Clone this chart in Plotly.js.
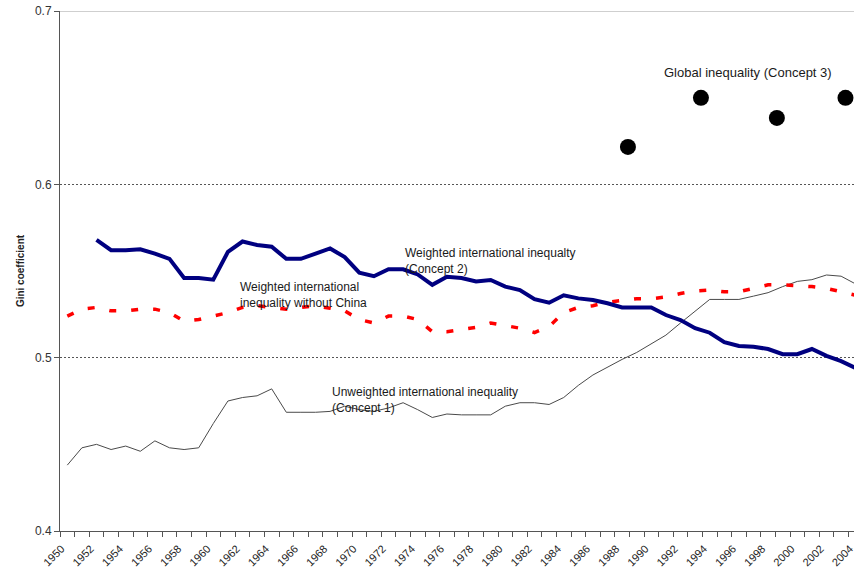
<!DOCTYPE html>
<html>
<head>
<meta charset="utf-8">
<script src="https://cdn.plot.ly/plotly-3.0.1.min.js"></script>
<style>
html,body{margin:0;padding:0;overflow:hidden;background:#fff;}
#chart{width:870px;height:573px;}
</style>
</head>
<body>
<div id="chart"></div>
<script>
// ---- data ----
const years = [1950,1951,1952,1953,1954,1955,1956,1957,1958,1959,1960,1961,1962,1963,1964,1965,1966,1967,1968,1969,
1970,1971,1972,1973,1974,1975,1976,1977,1978,1979,1980,1981,1982,1983,1984,1985,1986,1987,1988,1989,
1990,1991,1992,1993,1994,1995,1996,1997,1998,1999,2000,2001,2002,2003,2004];

// Unweighted international inequality (Concept 1)
const concept1 = [0.438,0.448,0.450,0.447,0.449,0.446,0.452,0.448,0.447,0.448,
0.462,0.475,0.477,0.478,0.482,0.4685,0.4685,0.4685,0.469,0.472,
0.470,0.469,0.471,0.474,0.470,0.4655,0.4675,0.467,0.467,0.467,
0.472,0.474,0.474,0.473,0.477,0.484,0.490,0.4945,0.499,0.503,
0.508,0.513,0.520,0.527,0.5336,0.5336,0.5336,0.5355,0.5375,0.541,
0.544,0.545,0.5477,0.547,0.5425];

// Weighted international inequality (Concept 2)
const concept2 = [null,null,0.568,0.562,0.562,0.5625,0.560,0.557,0.546,0.546,
0.545,0.561,0.567,0.565,0.564,0.557,0.557,0.560,0.563,0.558,
0.549,0.547,0.551,0.551,0.548,0.542,0.5467,0.546,0.544,0.5448,
0.541,0.539,0.5337,0.5317,0.536,0.5342,0.5333,0.5314,0.529,0.529,
0.529,0.5246,0.5217,0.517,0.5144,0.509,0.5067,0.5063,0.505,0.502,
0.502,0.505,0.501,0.498,0.494];

// Weighted international inequality without China
const concept2NoChina = [0.524,0.528,0.529,0.527,0.527,0.528,0.528,0.526,0.521,0.522,
0.524,0.526,0.529,0.530,0.529,0.528,0.529,0.530,0.5285,0.527,
0.522,0.520,0.524,0.524,0.522,0.515,0.515,0.5165,0.5175,0.520,
0.5185,0.517,0.5145,0.518,0.526,0.529,0.530,0.532,0.533,0.534,
0.534,0.535,0.537,0.5385,0.539,0.538,0.538,0.540,0.542,0.542,
0.5415,0.541,0.540,0.538,0.536];

// Global inequality (Concept 3)
const globalX = [1988.4, 1993.4, 1998.6, 2003.3];
const globalY = [0.6216, 0.6499, 0.6383, 0.6499];

// x tick labels (every second year)
const xLabelYears = [1950,1952,1954,1956,1958,1960,1962,1964,1966,1968,1970,1972,1974,1976,
1978,1980,1982,1984,1986,1988,1990,1992,1994,1996,1998,2000,2002,2004];

const yTicks = [0.4, 0.5, 0.6, 0.7];
const yTickText = ['0.4', '0.5', '0.6', '0.7'];

// ---- chart ----
const FONT = 'Arial, "Liberation Sans", sans-serif';
const LABEL_SHIFT = 0.4; // rotated labels sit slightly left of their category
const traces = [
  {x: years, y: concept1, type: 'scatter', mode: 'lines', name: 'Unweighted international inequality (Concept 1)',
   line: {color: '#4a4a4a', width: 1}},
  {x: years, y: concept2NoChina, type: 'scatter', mode: 'lines', name: 'Weighted international inequality without China',
   line: {color: '#ff0000', width: 3.5, dash: '7px,15px'}},
  {x: years, y: concept2, type: 'scatter', mode: 'lines', name: 'Weighted international inequalty (Concept 2)',
   line: {color: '#000080', width: 4}},
  {x: globalX, y: globalY, type: 'scatter', mode: 'markers', name: 'Global inequality (Concept 3)',
   marker: {color: '#000000', size: 16, symbol: 'circle'}, cliponaxis: false}
];

function ann(text, x, y, size) {
  return {text: text, x: x, y: y, xref: 'x', yref: 'y', xanchor: 'left', yanchor: 'middle',
    align: 'left', showarrow: false, font: {family: FONT, size: size || 12, color: '#1a1a1a'}};
}

const layout = {
  width: 870, height: 573,
  margin: {l: 60, r: 7, t: 11, b: 42},
  paper_bgcolor: '#ffffff', plot_bgcolor: '#ffffff',
  showlegend: false,
  font: {family: FONT, size: 12, color: '#222'},
  xaxis: {
    range: [1949.5, 2004.5],
    tickmode: 'array',
    tickvals: xLabelYears.map(v => v - LABEL_SHIFT),
    ticktext: xLabelYears.map(String),
    ticks: '', tickangle: -45,
    tickfont: {family: FONT, size: 11, color: '#222'},
    ticklabelstandoff: 6,
    showline: true, linecolor: '#555', linewidth: 1,
    showgrid: false, zeroline: false,
    minor: {tickmode: 'linear', tick0: 1949.5, dtick: 1, ticks: 'outside', ticklen: 5, tickcolor: '#555', showgrid: false}
  },
  yaxis: {
    range: [0.4, 0.7],
    tickmode: 'array', tickvals: yTicks, ticktext: yTickText,
    ticks: 'outside', ticklen: 5, tickcolor: '#555',
    tickfont: {family: FONT, size: 12, color: '#333'},
    showline: true, linecolor: '#555', linewidth: 1,
    showgrid: true, gridcolor: '#555', gridwidth: 1, griddash: '2px,2px',
    zeroline: false,
    title: {text: 'Gini coefficient', font: {family: FONT, size: 10, color: '#222', weight: 'bold'}, standoff: 8}
  },
  shapes: [
    {type: 'line', xref: 'paper', yref: 'y', x0: 0, x1: 1, y0: 0.7, y1: 0.7,
     line: {color: '#a0a0a0', width: 1}}
  ],
  annotations: [
    ann('Global inequality (Concept 3)', 1990.7, 0.6648, 13),
    ann('Weighted international inequalty<br>(Concept 2)', 1973.0, 0.5557),
    ann('Weighted international<br>inequality without China', 1961.7, 0.5363),
    ann('Unweighted international inequality<br>(Concept 1)', 1968.0, 0.4755)
  ]
};

Plotly.newPlot('chart', traces, layout, {displayModeBar: false, staticPlot: true});
</script>
</body>
</html>
